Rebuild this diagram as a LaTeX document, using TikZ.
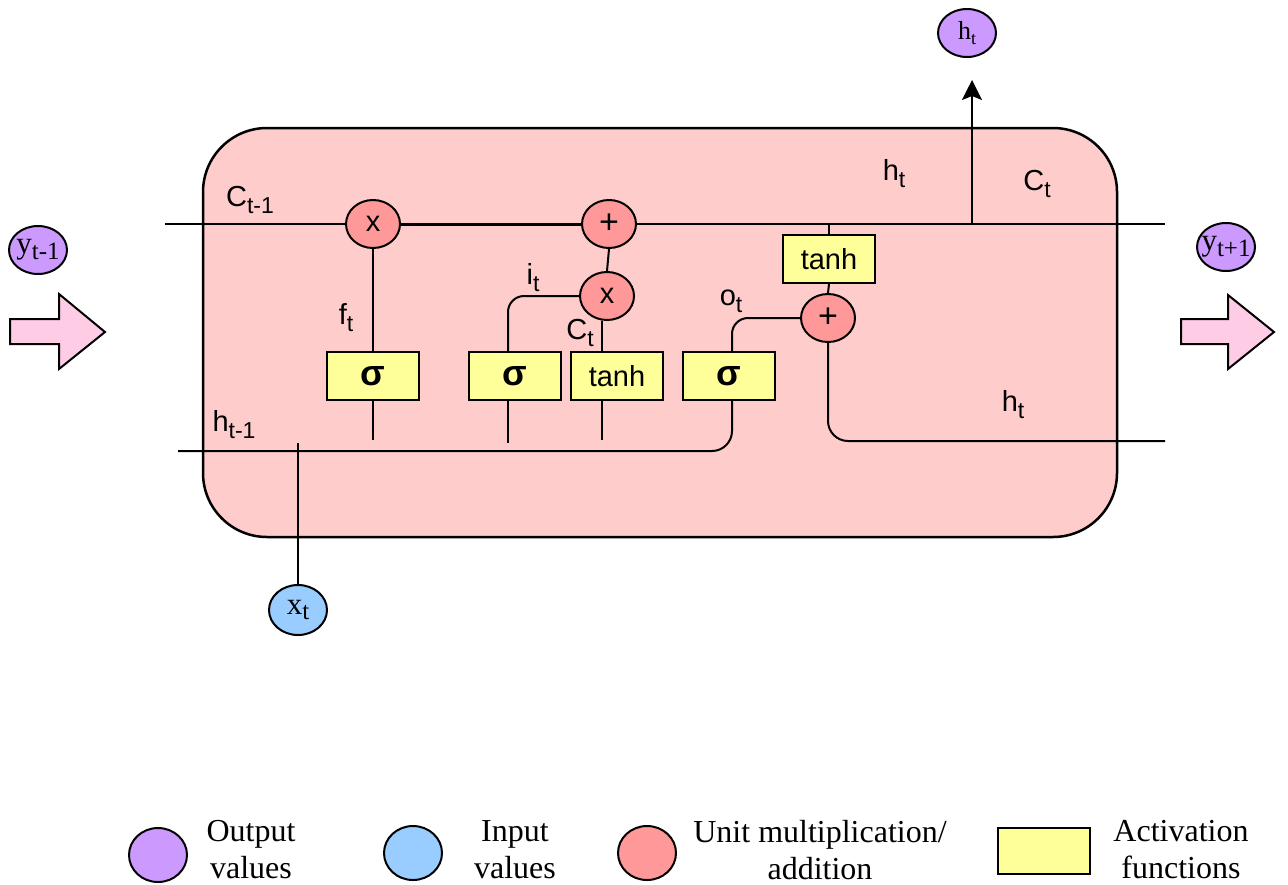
\documentclass[tikz,border=0pt]{standalone}
\usepackage{fontspec}
\setmainfont{Liberation Sans}
\newfontfamily\serifface{Liberation Serif}
\usetikzlibrary{shapes.geometric,calc,arrows.meta}
\definecolor{cellpink}{RGB}{255,204,204}
\definecolor{opred}{RGB}{255,153,153}
\definecolor{actyellow}{RGB}{255,255,153}
\definecolor{outpurple}{RGB}{204,153,255}
\definecolor{inblue}{RGB}{153,204,255}
\definecolor{arrowpink}{RGB}{255,204,230}
\newcommand\lblsub[1]{\raisebox{-0.45ex}{\fontsize{11.5}{11.5}\selectfont #1}}
\newcommand\ellsub[1]{\raisebox{-0.4ex}{\fontsize{12.5}{12.5}\selectfont #1}}
\newcommand\smallsub[1]{\raisebox{-0.4ex}{\fontsize{9}{9}\selectfont #1}}
\begin{document}
\begin{tikzpicture}[x=0.5pt,y=-0.5pt,line width=1pt,
  op/.style={ellipse,draw,fill=opred,minimum width=27pt,minimum height=24pt,inner sep=0pt,font=\fontsize{14.5}{14.5}\selectfont},
  act/.style={rectangle,draw,fill=actyellow,minimum width=46pt,minimum height=24pt,inner sep=0pt},
  sig/.style={act,font=\fontsize{18}{18}\selectfont\bfseries},
  th/.style={act,font=\fontsize{14.5}{14.5}\selectfont},
  outv/.style={ellipse,draw,fill=outpurple,minimum width=29pt,minimum height=24pt,inner sep=0pt,font=\serifface\fontsize{15.5}{15.5}\selectfont},
  inv/.style={ellipse,draw,fill=inblue,minimum width=29pt,minimum height=25pt,inner sep=0pt,font=\serifface\fontsize{15.5}{15.5}\selectfont},
  lbl/.style={inner sep=0pt,font=\fontsize{14.5}{15}\selectfont},
  legtxt/.style={inner sep=0pt,align=center,font=\serifface\fontsize{16}{18.5}\selectfont},
  blockarrow/.style={draw,fill=arrowpink,line width=1pt,line join=miter}
]
\useasboundingbox (0,0) rectangle (1288,884);
% cell body
\draw[fill=cellpink,line width=1.25pt,rounded corners=32pt] (203,128) rectangle (1117,537);

% coordinates
\coordinate (cL) at (165,224);
\coordinate (cR) at (1165,224);
\coordinate (hL) at (178,451);
\coordinate (hR) at (1165,441);
\coordinate (split) at (972,224);
\coordinate (uptip) at (972,80);
\coordinate (xtop) at (298,443);

% operators
\node[op] (fx) at (373,224) {x};
\node[op,font=\fontsize{17}{17}\selectfont] (cplus) at (609,224) {+};
\node[op] (ix) at (607,296) {x};
\node[op,font=\fontsize{17}{17}\selectfont] (hplus) at (828,318) {+};

% activation boxes
\node[sig] (fbox) at (373,376) {σ};
\node[sig] (ibox) at (515,376) {σ};
\node[th] (tbox) at (617,376) {tanh};
\node[sig] (obox) at (729,376) {σ};
\node[th] (t2box) at (829,259) {tanh};

% outputs / inputs
\node[outv,font=\serifface\fontsize{13}{13}\selectfont] (ht) at (967,33) {h\smallsub{t}};
\node[outv] (yprev) at (38,250) {\makebox[0pt]{y\ellsub{t-1}}};
\node[outv] (ynext) at (1226,247) {\makebox[0pt]{y\ellsub{t+1}}};
\node[inv] (xt) at (298,610) {x\ellsub{t}};

% cell state line
\draw (cL) -- (fx.west);
\draw[line width=1.5pt] (fx.east) -- (cplus.west);
\draw (cplus.east) -- (cR);
\draw[-{Stealth[length=10pt,width=10pt,inset=2pt]}] (split) -- (uptip);

% forget gate
\draw (fx.south) -- (fbox.north);
\coordinate (fend) at (373,440);
\draw (fbox.south) -- (fend);

% input gate
\draw (cplus.south) -- (ix.north);
\coordinate (iup) at (508,352);
\coordinate (idown) at (508,443);
\draw[rounded corners=8pt] (iup) |- (ix.west);
\draw (iup |- ibox.south) -- (idown);
\coordinate (tup) at (602,352);
\coordinate (tdown) at (602,440);
\draw (ix.south -| tup) -- (tup);
\draw (tup |- tbox.south) -- (tdown);

% output gate
\coordinate (oup) at (732,352);
\draw[rounded corners=8pt] (oup) |- (hplus.west);
\draw[rounded corners=10pt] (oup |- obox.south) |- (hL);
\draw (t2box.north |- split) -- (t2box.north);
\draw (t2box.south) -- (hplus.north);
\draw[rounded corners=10pt] (hplus.south) |- (hR);

% input x_t
\draw (xtop) -- (xt.north);

% block arrows
\draw[blockarrow] (10,319) -- (59,319) -- (59,294) -- (105,332) -- (59,369) -- (59,344) -- (10,344) -- cycle;
\draw[blockarrow] (1181,319) -- (1228,319) -- (1228,295) -- (1274,332) -- (1228,369) -- (1228,344) -- (1181,344) -- cycle;

% labels
\node[lbl] (lCprev) at (250,200) {C\lblsub{t-1}};
\node[lbl] (lf) at (346,318) {f\lblsub{t}};
\node[lbl] (lhprev) at (234,425) {h\lblsub{t-1}};
\node[lbl] (li) at (533,278) {i\lblsub{t}};
\node[lbl] (lC) at (580,333) {C\lblsub{t}};
\node[lbl] (lo) at (731,301) {o\lblsub{t}};
\node[lbl] (lht) at (894,174) {h\lblsub{t}};
\node[lbl] (lCt) at (1037,184) {C\lblsub{t}};
\node[lbl] (lhlow) at (1013,405) {h\lblsub{t}};

% legend
\node[ellipse,draw,fill=outpurple,minimum width=29pt,minimum height=27pt,inner sep=0pt] (legout) at (158,855) {};
\node[legtxt] (legouttxt) at (251,850) {Output\\values};
\node[ellipse,draw,fill=inblue,minimum width=29pt,minimum height=27pt,inner sep=0pt] (legin) at (413,853) {};
\node[legtxt] (legintxt) at (515,850) {Input\\values};
\node[ellipse,draw,fill=opred,minimum width=29pt,minimum height=27pt,inner sep=0pt] (legop) at (647,853) {};
\node[legtxt] (legoptxt) at (820,850) {Unit multiplication/\\addition};
\node[rectangle,draw,fill=actyellow,minimum width=46pt,minimum height=23pt,inner sep=0pt] (legact) at (1044,851) {};
\node[legtxt] (legacttxt) at (1181,850) {Activation\\functions};
\end{tikzpicture}
\end{document}
